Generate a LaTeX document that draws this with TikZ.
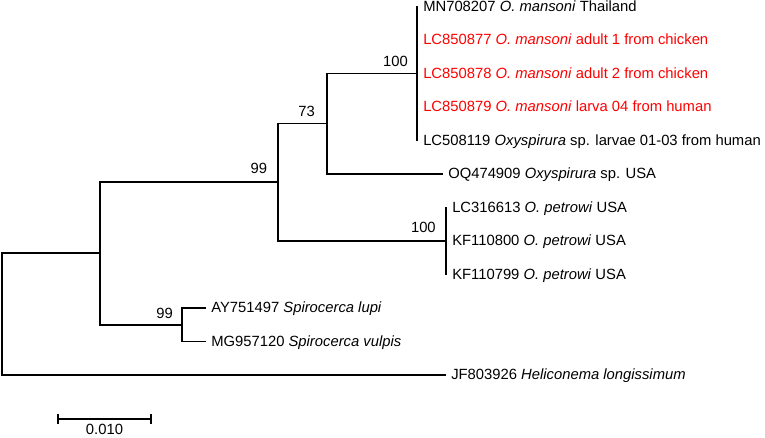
\documentclass[tikz,border=0pt]{standalone}
\usepackage{fontspec}
\setmainfont{Liberation Sans}
\usepackage{xcolor}
\usepackage{tikz}
\definecolor{newseq}{RGB}{255,0,0}
\usetikzlibrary{arrows.meta, positioning}

\begin{document}
\begin{tikzpicture}[
  x=0.75pt, y=-0.75pt,
  branch/.style={line width=1.45pt, line cap=rect},
  taxon/.style={anchor=west, inner ysep=0pt, inner xsep=4.5pt, text height=0.716em, text depth=0pt, font=\fontsize{11.1}{13.3}\selectfont},
  boot/.style={anchor=south east, inner sep=0pt, text height=0.716em, text depth=0pt, font=\fontsize{11.1}{13.3}\selectfont},
  found/.style={text=newseq}
]
  \useasboundingbox (0,0) rectangle (765,437);

  % x positions of the internal nodes
  \def\rootX{2}
  \def\aX{100}
  \def\bX{278}
  \def\cX{327}
  \def\mX{417}
  \def\pX{446}
  \def\sX{182}

  % internal nodes
  \coordinate (root) at (\rootX, 314);
  \coordinate (nA) at (\aX, 253);
  \coordinate (nB) at (\bX, 182);
  \coordinate (nC) at (\cX, 123.5);
  \coordinate (nM) at (\mX, 73.5);
  \coordinate (nP) at (\pX, 241);
  \coordinate (nS) at (\sX, 325);

  % taxa
  \node[taxon] (mn)  at (\mX, 6.5)   {MN708207 \textit{O. mansoni} Thailand};
  \node[taxon, found] (lc77) at (\mX, 40)    {LC850877 \textit{O. mansoni} adult 1 from chicken};
  \node[taxon, found] (lc78) at (\mX, 73.5)  {LC850878 \textit{O. mansoni} adult 2 from chicken};
  \node[taxon, found] (lc79) at (\mX, 107)   {LC850879 \textit{O. mansoni} larva 04 from human};
  \node[taxon] (lc19) at (\mX, 140.5) {LC508119 \textit{Oxyspirura} sp. larvae 01-03 from human};
  \node[taxon] (oq)  at (442, 174)   {OQ474909 \textit{Oxyspirura} sp. USA};
  \node[taxon] (lc13) at (\pX, 207.5) {LC316613 \textit{O. petrowi} USA};
  \node[taxon] (kf00) at (\pX, 241)   {KF110800 \textit{O. petrowi} USA};
  \node[taxon] (kf99) at (\pX, 274.5) {KF110799 \textit{O. petrowi} USA};
  \node[taxon] (ay)  at (205, 308)   {AY751497 \textit{Spirocerca lupi}};
  \node[taxon] (mg)  at (205, 341.5) {MG957120 \textit{Spirocerca vulpis}};
  \node[taxon] (jf)  at (445, 375)   {JF803926 \textit{Heliconema longissimum}};

  % branches
  \draw[branch] (root) |- (nA);
  \draw[branch] (root) |- (jf.west);
  \draw[branch] (nA) |- (nB);
  \draw[branch] (nA) |- (nS);
  \draw[branch] (nB) |- (nC);
  \draw[branch] (nB) |- (nP);
  \draw[branch] (nC) |- (nM);
  \draw[branch] (nC) |- (oq.west);
  \draw[branch] (mn.west) -- (lc19.west);
  \draw[branch] (lc13.west) -- (kf99.west);
  \draw[branch] (nS) |- (ay.west);
  \draw[branch] (nS) |- (mg.west);

  % bootstrap values
  \node[boot] (bM) at ([xshift=-6.75pt, yshift=5.25pt]nM) {100};
  \node[boot] (bC) at ([xshift=-9pt, yshift=5.25pt]nC) {73};
  \node[boot] (bB) at ([xshift=-8pt, yshift=6.5pt]nB) {99};
  \node[boot] (bP) at ([xshift=-7.5pt, yshift=6pt]nP) {100};
  \node[boot] (bS) at ([xshift=-6.75pt, yshift=4.5pt]nS) {99};

  % scale bar
  \coordinate (sbL) at (57, 419);
  \coordinate (sbR) at (152, 419);
  \draw[branch, line cap=butt, {Bar[width=7pt]}-{Bar[width=7pt]}] (sbL) -- (sbR);
  \node[boot, anchor=center] (sbT) at (104.5, 429.5) {0.010};

\end{tikzpicture}
\end{document}
